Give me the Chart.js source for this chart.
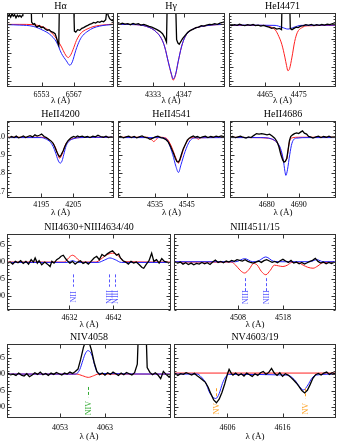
<!DOCTYPE html>
<html><head><meta charset="utf-8">
<script src="https://cdn.jsdelivr.net/npm/chart.js@4.4.1/dist/chart.umd.min.js"></script>
<style>
html,body{margin:0;padding:0;background:#fff;}
body{width:338px;height:441px;overflow:hidden;position:relative;}
canvas{position:absolute;}
</style></head><body>
<script>
// ---------------- DATA ----------------
// H alpha
const haObsX = [6538.4,6539.0,6539.6,6540.2,6540.7,6541.3,6541.9,6542.5,6543.1,6543.6,6544.2,6544.6,6544.9,6548.2,6548.7,6549.4,6550.0,6550.6,6551.1,6552.0,6552.9,6553.7,6554.6,6555.5,6556.3,6557.2,6558.1,6558.9,6559.5,6560.1,6560.5,6560.9,6566.7,6567.3,6567.9,6568.7,6569.6,6570.5,6571.3,6572.2,6573.1,6573.9,6574.8,6575.7,6576.5,6577.4,6578.3,6579.1,6580.0,6580.9,6581.4,6582.0,6582.6,6583.5,6584.5];
const haObsY = [1.056,1.070,1.051,1.075,1.058,1.068,1.047,1.065,1.054,1.063,1.051,1.061,1.3,1.3,1.016,1.000,1.005,0.986,0.981,0.991,0.977,0.981,0.967,0.958,0.963,0.949,0.944,0.935,0.907,0.869,0.853,1.3,1.3,0.953,0.946,0.963,0.958,0.972,0.977,0.986,0.993,1.000,1.005,1.014,1.009,1.019,1.014,1.023,1.019,1.033,1.098,1.063,1.040,1.028,1.023];
const haRedX = [6538.1,6543.6,6549.4,6553.7,6556.6,6559.5,6561.7,6563.1,6564.6,6565.6,6566.7,6568.2,6569.6,6571.0,6573.2,6575.4,6578.3,6581.1,6584.8];
const haRedY = [1.0,1.0,0.998,0.981,0.953,0.9,0.841,0.795,0.767,0.783,0.823,0.888,0.928,0.951,0.970,0.984,0.993,0.998,1.002];
const haBlueX = [6538.1,6543.6,6549.4,6553.7,6556.6,6559.5,6561.7,6563.8,6565.3,6566.4,6567.9,6569.6,6571.0,6573.2,6575.4,6578.3,6581.1,6584.8];
const haBlueY = [0.998,0.995,0.986,0.958,0.930,0.876,0.795,0.744,0.713,0.737,0.818,0.888,0.923,0.953,0.974,0.988,0.995,1.0];

// H gamma
const hgObsX = [4316.6,4317.8,4319.0,4320.2,4321.5,4322.7,4323.9,4325.1,4326.3,4327.5,4328.8,4330.0,4331.2,4332.4,4333.6,4334.8,4336.1,4337.3,4338.2,4339.1,4339.6,4343.0,4343.7,4344.3,4344.9,4345.5,4346.4,4347.6,4348.8,4350.0,4351.3,4352.5,4353.7,4354.9,4356.1,4357.3,4358.6,4359.8,4361.0,4362.2,4363.4,4364.6,4365.7];
const hgObsY = [1.005,1.0,1.009,1.002,1.005,0.998,1.007,1.0,1.005,0.995,1.0,0.993,0.986,0.981,0.972,0.963,0.951,0.935,0.911,0.876,1.3,1.3,0.893,0.869,0.860,0.876,0.900,0.923,0.944,0.958,0.967,0.977,0.981,0.991,0.988,0.995,1.0,0.998,1.005,1.0,1.009,1.014,1.019];
const hgModX = [4316.6,4325.4,4331.5,4334.5,4336.8,4338.3,4339.9,4341.4,4342.1,4343.2,4344.4,4345.9,4347.5,4349.7,4352.8,4357.3,4361.9,4365.7];
const hgRedY = [1.0,0.998,0.977,0.946,0.900,0.841,0.737,0.643,0.608,0.643,0.737,0.841,0.911,0.953,0.977,0.991,0.998,1.0];
const hgBlueY = [1.0,0.998,0.977,0.946,0.900,0.841,0.737,0.648,0.617,0.648,0.737,0.841,0.911,0.953,0.977,0.991,0.998,1.0];

// HeI 4471
const heiObsX = [4454.4,4455.2,4456.0,4456.8,4457.5,4458.3,4459.1,4459.9,4460.7,4461.5,4462.2,4463.0,4463.8,4464.6,4465.4,4466.2,4467.0,4467.7,4468.5,4469.3,4469.9,4470.2,4472.2,4472.5,4473.0,4473.6,4474.2,4474.8,4475.6,4476.4,4477.1,4477.9,4478.7,4479.5,4480.3,4481.1,4481.8,4482.6,4483.4,4484.2,4485.0,4485.8];
const heiObsY = [1.0,0.991,0.998,0.993,1.002,0.995,0.991,0.998,0.993,1.0,0.991,0.995,0.988,0.993,0.986,0.981,0.972,0.977,0.967,0.972,0.963,1.3,1.3,0.970,0.963,0.972,0.981,0.977,0.988,0.991,0.998,0.993,1.0,0.991,0.998,0.993,1.0,0.995,1.002,0.998,1.005,1.0];
const heiRedX = [4454.4,4465.0,4466.8,4468.1,4469.1,4470.0,4470.9,4471.4,4471.8,4472.3,4473.0,4473.8,4474.6,4475.8,4477.5,4486.1];
const heiRedY = [0.993,0.993,0.981,0.960,0.916,0.860,0.770,0.710,0.674,0.690,0.770,0.880,0.944,0.975,0.990,0.993];
const heiBlueX = [4454.4,4468.0,4470.0,4471.8,4473.6,4475.6,4486.1];
const heiBlueY = [0.995,0.993,0.980,0.967,0.980,0.993,0.995];

// HeII 4200
const he4200ObsX = [4184.3,4185.0,4185.7,4186.5,4187.2,4187.9,4188.6,4189.4,4190.1,4190.8,4191.5,4192.3,4193.0,4193.7,4194.4,4195.1,4195.9,4196.6,4197.3,4198.0,4198.7,4199.3,4199.9,4200.4,4200.8,4201.2,4201.8,4202.3,4202.8,4203.3,4203.8,4204.4,4205.1,4205.7,4206.3,4206.9,4207.8,4208.6,4209.4,4210.2,4211.1,4211.9,4212.7,4213.5,4214.4,4215.2,4216.0,4216.8,4217.8];
const he4200ObsY = [1.0,0.995,1.002,0.996,1.004,0.995,0.998,1.005,0.996,1.002,1.007,1.0,1.011,1.004,1.009,1.015,1.002,0.996,0.987,0.978,0.965,0.942,0.916,0.898,0.891,0.902,0.923,0.945,0.964,0.978,0.987,0.996,1.002,0.998,1.005,1.0,1.004,0.998,1.002,0.996,1.004,1.0,1.009,1.002,0.998,1.004,0.996,1.0,0.995];
const he4200RedX = [4184.3,4195.0,4196.6,4197.6,4198.7,4199.5,4200.2,4200.7,4201.2,4201.8,4202.6,4203.3,4204.3,4206.9,4217.8];
const he4200RedY = [0.998,0.998,0.993,0.984,0.965,0.938,0.902,0.883,0.893,0.920,0.960,0.975,0.987,0.996,0.998];
const he4200BlueX = [4184.3,4195.0,4196.6,4197.6,4198.7,4199.5,4200.2,4200.9,4201.5,4202.0,4202.8,4203.8,4204.9,4207.0,4217.8];
const he4200BlueY = [0.996,0.996,0.987,0.975,0.947,0.911,0.874,0.856,0.869,0.902,0.953,0.978,0.989,0.996,0.998];

// HeII 4541
const he4541ObsX = [4523.3,4524.1,4525.0,4525.8,4526.7,4527.5,4528.4,4529.2,4530.0,4530.9,4531.7,4532.6,4533.4,4534.3,4535.1,4535.9,4536.8,4537.6,4538.5,4539.2,4539.9,4540.8,4541.4,4541.9,4542.4,4542.8,4543.3,4543.9,4544.6,4545.2,4545.8,4546.5,4547.1,4547.7,4548.4,4549.2,4550.0,4550.9,4551.7,4552.6,4553.4,4554.3,4555.1,4555.9,4557.1];
const he4541ObsY = [0.998,1.002,0.995,1.0,1.004,0.996,1.002,0.995,1.0,1.005,0.998,0.995,0.987,0.993,1.0,1.004,0.996,0.993,0.984,0.971,0.947,0.911,0.883,0.865,0.862,0.874,0.902,0.934,0.960,0.982,0.993,1.0,1.005,0.998,1.002,0.995,1.0,1.004,0.996,1.002,0.998,1.004,1.0,1.005,1.0];
const he4541RedX = [4523.3,4532.6,4533.9,4534.6,4535.3,4536.3,4538.5,4539.7,4540.8,4541.8,4542.4,4543.1,4544.1,4545.5,4547.1,4548.2,4548.7,4549.4,4557.1];
const he4541RedY = [0.998,0.998,0.985,0.974,0.985,0.998,0.993,0.965,0.920,0.874,0.856,0.883,0.938,0.984,0.996,0.993,0.987,0.995,0.998];
const he4541BlueX = [4523.3,4536.0,4538.5,4539.2,4540.6,4541.6,4542.4,4543.2,4544.5,4546.0,4548.2,4557.1];
const he4541BlueY = [0.996,0.996,0.989,0.971,0.902,0.838,0.805,0.847,0.920,0.978,0.995,0.996];

// HeII 4686
const he4686ObsX = [4668.5,4669.3,4670.2,4671.0,4671.8,4672.6,4673.5,4674.3,4675.1,4675.9,4676.8,4677.6,4678.4,4679.2,4680.1,4680.9,4681.7,4682.5,4683.2,4683.8,4684.4,4685.0,4685.4,4685.8,4686.3,4686.7,4687.1,4687.5,4688.1,4688.7,4689.4,4690.0,4690.6,4691.2,4691.8,4692.5,4693.1,4693.7,4694.5,4695.4,4696.2,4697.0,4697.8,4698.7,4699.5,4700.3,4701.7];
const he4686ObsY = [0.998,1.002,0.996,1.0,1.004,0.998,0.993,1.0,0.996,1.007,1.018,1.015,1.018,1.015,1.011,1.015,1.005,0.993,0.975,0.947,0.905,0.874,0.862,0.865,0.883,0.929,0.978,1.002,1.011,1.018,1.022,1.018,1.026,1.033,1.020,1.015,1.002,1.0,0.993,1.0,1.004,0.996,1.002,0.998,1.004,0.998,1.0];
const he4686RedX = [4668.5,4676.0,4680.5,4682.6,4683.6,4684.6,4685.4,4685.9,4686.4,4686.7,4687.2,4688.0,4690.0,4701.7];
const he4686RedY = [0.998,0.996,0.993,0.978,0.960,0.911,0.865,0.869,0.887,0.929,0.978,0.995,0.998,0.998];
const he4686BlueX = [4668.5,4678.0,4681.5,4683.1,4684.3,4685.2,4685.7,4686.0,4686.5,4687.2,4687.9,4689.3,4692.9,4701.7];
const he4686BlueY = [0.996,0.996,0.989,0.971,0.938,0.874,0.811,0.789,0.820,0.902,0.965,0.993,0.996,0.996];

// NII 4630 + NIII 4634/40
const niiObsX = [4617.9,4618.5,4619.1,4619.7,4620.3,4620.9,4621.5,4622.1,4622.7,4623.3,4623.8,4624.2,4624.7,4625.1,4625.7,4626.4,4627.0,4627.6,4628.0,4628.5,4629.1,4629.7,4630.1,4630.6,4631.0,4631.5,4632.1,4632.7,4633.3,4633.9,4634.5,4635.1,4635.7,4636.3,4636.9,4637.6,4638.2,4638.8,4639.4,4640.0,4640.6,4641.2,4641.8,4642.3,4642.7,4643.2,4643.6,4644.2,4644.8,4645.4,4646.0,4646.6,4647.2,4647.9,4648.5,4648.9,4649.5,4650.1,4650.7,4651.2,4651.8,4652.4,4653.0,4653.6,4654.2,4654.7];
const niiObsY = [0.996,0.999,0.993,1.001,0.997,1.003,0.995,1.001,0.993,1.006,0.999,1.011,0.996,1.003,0.991,0.999,0.993,0.986,1.001,0.996,1.006,1.011,1.016,1.019,1.011,1.003,0.996,1.001,0.993,0.999,1.003,0.995,0.999,0.993,1.001,1.011,1.016,1.006,1.021,1.016,1.023,1.028,1.032,1.025,1.019,1.023,1.011,1.003,0.999,0.993,1.001,0.996,0.999,0.991,0.983,0.981,0.993,1.003,1.025,1.001,1.006,0.996,1.009,1.001,0.999,0.996];
const niiRedX = [4617.8,4630.8,4631.6,4632.2,4632.7,4633.3,4634.0,4634.7,4638.0,4639.0,4640.0,4641.0,4641.8,4642.8,4643.6,4644.4,4655.1];
const niiRedY = [0.999,0.999,1.008,1.016,1.019,1.015,1.006,0.999,0.999,1.006,1.016,1.023,1.025,1.021,1.011,1.0,0.999];
const niiBlueX = [4617.8,4631.5,4632.7,4634.0,4638.5,4640.0,4641.2,4642.4,4643.8,4655.1];
const niiBlueY = [0.998,0.998,1.003,0.998,0.998,1.005,1.011,1.006,0.998,0.998];
const niiLines = [4632.7,4640.9,4642.3];
const niiLineNames = ['NII','NIII','NIII'];

// NIII 4511/15
const niiiObsX = [4494.0,4494.6,4495.2,4495.8,4496.4,4497.0,4497.6,4498.2,4498.8,4499.4,4500.0,4500.6,4501.2,4501.8,4502.4,4503.0,4503.6,4504.2,4504.8,4505.4,4506.0,4506.6,4507.2,4507.8,4508.4,4509.0,4509.6,4510.2,4510.8,4511.4,4512.0,4512.6,4513.2,4513.8,4514.4,4515.0,4515.6,4516.2,4516.8,4517.4,4518.0,4518.6,4519.2,4519.8,4520.4,4521.0,4521.6,4522.2,4522.8,4523.4,4524.0,4524.6,4525.2,4525.8,4526.4,4527.0,4527.6,4528.2,4528.8,4529.4];
const niiiObsY = [1.000,0.996,0.999,0.993,0.997,0.992,0.996,0.991,0.995,0.993,0.998,0.994,0.997,0.992,0.999,1.005,0.998,1.001,0.997,1.002,0.999,1.004,1.001,1.006,1.004,1.002,1.006,1.001,0.998,0.996,0.999,1.002,0.998,1.003,1.006,1.002,0.998,1.001,0.997,1.003,1.007,1.002,0.998,1.004,0.996,0.999,0.994,0.998,0.993,0.997,1.001,1.004,1.010,1.001,0.996,0.999,0.994,0.998,0.995,0.999];
const niiiRedX = [4493.8,4506.5,4507.5,4508.5,4509.5,4510.5,4511.5,4512.3,4513.2,4514.2,4515.2,4516.1,4517.0,4518.0,4519.0,4520.0,4521.5,4522.5,4523.5,4524.7,4525.8,4526.8,4529.8];
const niiiRedY = [0.999,0.999,0.990,0.975,0.967,0.978,0.995,0.990,0.972,0.962,0.975,0.990,0.988,0.986,0.990,0.998,0.997,0.990,0.984,0.981,0.988,0.997,0.999];
const niiiBlueX = [4493.8,4507.5,4509.5,4511.3,4512.5,4514.2,4516.0,4518.0,4524.0,4525.5,4527.0,4529.8];
const niiiBlueY = [1.0,1.0,1.009,1.0,1.002,1.014,1.001,1.0,1.0,1.006,1.0,1.0];
const niiiLines = [4509.5,4514.2];
const niiiLineNames = ['NIII','NIII'];

// NIV 4058
const nivObsX = [4041.4,4042.0,4042.6,4043.2,4043.8,4044.4,4045.0,4045.6,4046.2,4046.8,4047.4,4048.0,4048.6,4049.2,4049.8,4050.4,4051.0,4051.6,4052.2,4052.8,4053.4,4054.0,4054.6,4055.2,4055.8,4056.4,4057.0,4057.6,4058.2,4058.8,4059.4,4060.0,4060.6,4061.2,4061.8,4062.4,4063.0,4063.6,4064.2,4064.8,4065.4,4066.0,4066.6,4067.2,4067.8,4068.4,4069.0,4069.6,4070.2,4070.5,4072.1,4072.4,4073.0,4073.6,4074.2,4074.8,4075.4,4076.0,4076.6,4077.2,4077.6];
const nivObsY = [1.002,0.998,1.000,0.996,1.003,0.997,0.994,1.001,0.992,0.997,1.004,0.999,1.006,0.998,1.002,0.996,1.003,0.999,1.005,1.001,0.997,1.003,1.000,1.006,1.002,1.008,1.015,1.045,1.080,1.105,1.100,1.072,1.035,1.008,0.998,1.003,0.997,1.004,0.999,1.006,1.001,0.996,1.003,0.998,1.005,1.001,0.997,1.004,1.030,1.150,1.150,1.020,1.005,0.998,1.004,0.997,0.986,1.008,0.999,0.992,0.995];
const nivRedX = [4041.2,4056.7,4058.0,4059.3,4060.5,4061.5,4077.7];
const nivRedY = [1.0,1.0,0.995,0.990,0.995,1.0,1.0];
const nivBlueX = [4041.2,4056.5,4057.4,4058.1,4058.6,4059.2,4059.7,4060.2,4060.8,4061.5,4077.7];
const nivBlueY = [1.0,1.0,1.014,1.042,1.061,1.071,1.067,1.053,1.022,1.002,1.0];
const nivLines = [4059.3];
const nivLineNames = ['NIV'];

// NV 4603/19
const nvObsX = [4596.5,4597.0,4597.5,4598.0,4598.5,4599.0,4599.5,4600.0,4600.5,4601.0,4601.5,4602.0,4602.5,4603.0,4603.5,4604.0,4604.5,4605.0,4605.5,4606.0,4606.3,4606.7,4607.0,4607.5,4608.0,4608.5,4609.0,4609.5,4610.0,4610.5,4611.0,4611.5,4612.0,4612.5,4613.0,4613.5,4614.0,4614.5,4615.0,4615.5,4616.0,4616.5,4617.0,4617.5,4618.0,4618.5,4619.0,4619.5,4620.0,4620.5,4621.0,4621.5,4622.0,4622.5,4623.0,4623.5,4624.0,4624.5,4625.0,4625.5];
const nvObsY = [1.002,0.996,1.001,0.999,1.004,1.001,0.997,1.002,0.995,0.989,0.982,0.975,0.960,0.940,0.922,0.913,0.924,0.944,0.970,1.000,1.014,1.002,0.997,1.003,0.996,1.001,0.994,1.003,0.998,0.993,1.001,0.996,1.004,1.008,0.999,1.005,1.017,1.003,0.996,1.004,0.993,1.001,0.997,0.990,0.982,0.973,0.962,0.950,0.943,0.951,0.968,0.987,0.998,1.002,0.997,1.003,1.006,0.999,1.004,1.001];
const nvRedX = [4596.3,4625.7];
const nvRedY = [1.003,1.003];
const nvBlueX = [4596.3,4600.5,4601.2,4602.1,4602.7,4603.3,4603.9,4604.5,4605.1,4605.7,4606.3,4616.9,4618.2,4619.1,4619.8,4620.6,4621.3,4622.1,4625.7];
const nvBlueY = [1.0,1.0,0.992,0.972,0.946,0.931,0.926,0.941,0.972,0.992,0.999,0.997,0.982,0.962,0.952,0.967,0.987,0.997,1.0];
const nvLines = [4603.9,4620.0];
const nvLineNames = ['NV','NV'];

// tick labels
const xTicksHa = [6553,6567], xTicksHg = [4333,4347], xTicksHei = [4465,4475];
const xTicks4200 = [4195,4205], xTicks4541 = [4535,4545], xTicks4686 = [4680,4690];
const xTicksNii = [4632,4642], xTicksNiii = [4508,4518], xTicksNiv = [4053,4063], xTicksNv = [4606,4616];
const yTicksRow1 = [0.6,0.7,0.8,0.9,1.0];
const yTicksRow2 = [0.7,0.8,0.9,1.0];
const yTicksRow34 = [0.90,0.95,1.00,1.05];

// ---------------- DRAWING ----------------
const SERIF = "'Liberation Serif','DejaVu Serif',serif";
const RED = '#ff2020', BLUE = '#2222ff', BLACK = '#000000';
function zip(xs, ys){ return xs.map((x,i)=>({x:x, y:ys[i]})); }

const framePlugin = {
  id: 'frame',
  afterDraw(chart) {
    const o = chart.options.plugins.frame;
    const ctx = chart.ctx, a = chart.chartArea;
    const xs = chart.scales.x, ys = chart.scales.y;
    ctx.save();
    const L = Math.round(a.left)+0.5, R = Math.round(a.right)-0.5, T = Math.round(a.top)+0.5, B = Math.round(a.bottom)-0.5;
    ctx.strokeStyle = '#333'; ctx.lineWidth = 1;
    ctx.strokeRect(L, T, R-L, B-T);
    ctx.beginPath();
    const ytick = (v, len) => { const p = Math.round(ys.getPixelForValue(v))+0.5; ctx.moveTo(L,p); ctx.lineTo(L+len,p); ctx.moveTo(R,p); ctx.lineTo(R-len,p); };
    o.yMajor.forEach(v => ytick(v, 4));
    const n = Math.round((ys.max - o.yMinorStart)/o.yMinorStep);
    for (let k = 0; k <= n; k++) { const v = o.yMinorStart + k*o.yMinorStep; if (v < ys.max && v > ys.min) ytick(v, 2); }
    o.xMajor.forEach(v => { const p = Math.round(xs.getPixelForValue(v))+0.5; ctx.moveTo(p,B); ctx.lineTo(p,B-4); ctx.moveTo(p,T); ctx.lineTo(p,T+4); });
    ctx.stroke();
    if (o.marks) {
      ctx.strokeStyle = o.markColor; ctx.fillStyle = o.markColor;
      ctx.setLineDash([3,2]);
      ctx.font = '8px ' + SERIF;
      o.marks.forEach((w,i) => {
        const px = Math.round(xs.getPixelForValue(w))+0.5;
        ctx.beginPath(); ctx.moveTo(px, ys.getPixelForValue(o.markTop)); ctx.lineTo(px, ys.getPixelForValue(o.markBot)); ctx.stroke();
        ctx.save(); ctx.translate(px, ys.getPixelForValue(o.labelY)); ctx.rotate(-Math.PI/2);
        ctx.textAlign = 'center'; ctx.textBaseline = 'middle'; ctx.fillText(o.markNames[i], 0, 0); ctx.restore();
      });
    }
    ctx.restore();
  }
};

function panel(p) {
  const YW = p.yLabels ? 30 : 4, TH = 13, RP = 1;
  const w = (p.r - p.l) + YW + RP, h = (p.b - p.t) + TH + p.xh;
  const c = document.createElement('canvas');
  c.width = w; c.height = h;
  c.style.left = (p.l - YW) + 'px'; c.style.top = (p.t - TH) + 'px';
  c.style.width = w + 'px'; c.style.height = h + 'px';
  document.body.appendChild(c);
  new Chart(c, {
    type: 'line',
    data: { datasets: [
      { data: zip(p.obs[0], p.obs[1]), borderColor: BLACK, borderWidth: 1.3, tension: 0 },
      { data: zip(p.blue[0], p.blue[1]), borderColor: BLUE, borderWidth: 1, cubicInterpolationMode: 'monotone' },
      { data: zip(p.red[0], p.red[1]), borderColor: RED, borderWidth: 1, cubicInterpolationMode: 'monotone' }
    ]},
    options: {
      responsive: false, animation: false, devicePixelRatio: 1, events: [],
      layout: { padding: { left: 0, right: RP, top: 0, bottom: 0 } },
      elements: { point: { radius: 0 }, line: { fill: false } },
      plugins: {
        legend: { display: false }, tooltip: { enabled: false },
        title: { display: true, text: p.title, fullSize: false, color: '#000',
                 font: { family: SERIF, size: 10, weight: 'normal', lineHeight: 1.2 }, padding: { top: 0, bottom: 1 } },
        frame: { yMajor: p.yMajor, yMinorStart: p.yMinorStart, yMinorStep: p.yMinorStep, xMajor: p.xTicks,
                 marks: p.marks, markNames: p.markNames, markColor: p.markColor, markTop: p.markTop, markBot: p.markBot, labelY: p.labelY }
      },
      scales: {
        x: { type: 'linear', position: 'bottom', min: p.xr[0], max: p.xr[1],
             afterBuildTicks: s => { s.ticks = p.xTicks.map(v => ({ value: v })); },
             afterFit: s => { s.height = p.xh; },
             grid: { display: false, drawTicks: false }, border: { display: false },
             ticks: { color: '#000', font: { family: SERIF, size: 8 }, padding: p.tickPad, maxRotation: 0, autoSkip: false, callback: v => String(v) },
             title: { display: true, text: 'λ (Å)', color: '#000', font: { family: SERIF, size: 9 }, padding: 0 } },
        y: { type: 'linear', position: 'left', min: p.yr[0], max: p.yr[1],
             afterBuildTicks: s => { s.ticks = p.yMajor.map(v => ({ value: v })); },
             afterFit: s => { s.width = YW; },
             grid: { display: false, drawTicks: false }, border: { display: false },
             ticks: { display: p.yLabels, color: '#000', font: { family: SERIF, size: 8 }, padding: 2, callback: v => v.toFixed(p.yDec) } }
      }
    },
    plugins: [framePlugin]
  });
}

const row1 = { t: 13, b: 87, yr: [0.56, 1.08], yMajor: yTicksRow1, yMinorStart: 0.56, yMinorStep: 0.02, yDec: 1, xh: 19, tickPad: 3, yLabels: false };
const row2 = { t: 121, b: 198, yr: [0.665, 1.087], yMajor: yTicksRow2, yMinorStart: 0.68, yMinorStep: 0.02, yDec: 1, xh: 20, tickPad: 2 };
const row3 = { t: 234, b: 310, yr: [0.859, 1.081], yMajor: yTicksRow34, yMinorStart: 0.86, yMinorStep: 0.01, yDec: 2, xh: 20, tickPad: 3 };
const row4 = { t: 344, b: 418, yr: [0.867, 1.091], yMajor: yTicksRow34, yMinorStart: 0.87, yMinorStep: 0.01, yDec: 2, xh: 24, tickPad: 5 };

panel(Object.assign({}, row1, { l: 7, r: 114, title: 'Hα', xr: [6538, 6584.5], xTicks: xTicksHa, obs: [haObsX, haObsY], red: [haRedX, haRedY], blue: [haBlueX, haBlueY] }));
panel(Object.assign({}, row1, { l: 117, r: 225, title: 'Hγ', xr: [4316.6, 4365.7], xTicks: xTicksHg, obs: [hgObsX, hgObsY], red: [hgModX, hgRedY], blue: [hgModX, hgBlueY] }));
panel(Object.assign({}, row1, { l: 229, r: 336, title: 'HeI4471', xr: [4454.4, 4486.0], xTicks: xTicksHei, obs: [heiObsX, heiObsY], red: [heiRedX, heiRedY], blue: [heiBlueX, heiBlueY] }));

panel(Object.assign({}, row2, { l: 7, r: 114, yLabels: true, title: 'HeII4200', xr: [4184.3, 4217.7], xTicks: xTicks4200, obs: [he4200ObsX, he4200ObsY], red: [he4200RedX, he4200RedY], blue: [he4200BlueX, he4200BlueY] }));
panel(Object.assign({}, row2, { l: 118, r: 225, yLabels: false, title: 'HeII4541', xr: [4523.3, 4557.1], xTicks: xTicks4541, obs: [he4541ObsX, he4541ObsY], red: [he4541RedX, he4541RedY], blue: [he4541BlueX, he4541BlueY] }));
panel(Object.assign({}, row2, { l: 230, r: 336, yLabels: false, title: 'HeII4686', xr: [4668.5, 4701.7], xTicks: xTicks4686, obs: [he4686ObsX, he4686ObsY], red: [he4686RedX, he4686RedY], blue: [he4686BlueX, he4686BlueY] }));

panel(Object.assign({}, row3, { l: 7, r: 171, yLabels: true, title: 'NII4630+NIII4634/40', xr: [4617.8, 4655.1], xTicks: xTicksNii, obs: [niiObsX, niiObsY], red: [niiRedX, niiRedY], blue: [niiBlueX, niiBlueY],
  marks: niiLines, markNames: niiLineNames, markColor: '#5555ff', markTop: 0.963, markBot: 0.927, labelY: 0.897 }));
panel(Object.assign({}, row3, { l: 174, r: 336, yLabels: false, title: 'NIII4511/15', xr: [4493.8, 4529.8], xTicks: xTicksNiii, obs: [niiiObsX, niiiObsY], red: [niiiRedX, niiiRedY], blue: [niiiBlueX, niiiBlueY],
  marks: niiiLines, markNames: niiiLineNames, markColor: '#5555ff', markTop: 0.952, markBot: 0.908, labelY: 0.896 }));

panel(Object.assign({}, row4, { l: 7, r: 171, yLabels: true, title: 'NIV4058', xr: [4041.2, 4077.7], xTicks: xTicksNiv, obs: [nivObsX, nivObsY], red: [nivRedX, nivRedY], blue: [nivBlueX, nivBlueY],
  marks: nivLines, markNames: nivLineNames, markColor: '#33aa33', markTop: 0.961, markBot: 0.930, labelY: 0.897 }));
panel(Object.assign({}, row4, { l: 174, r: 336, yLabels: false, title: 'NV4603/19', xr: [4596.3, 4625.7], xTicks: xTicksNv, obs: [nvObsX, nvObsY], red: [nvRedX, nvRedY], blue: [nvBlueX, nvBlueY],
  marks: nvLines, markNames: nvLineNames, markColor: '#ffa020', markTop: 0.957, markBot: 0.926, labelY: 0.895 }));
</script>
</body></html>
